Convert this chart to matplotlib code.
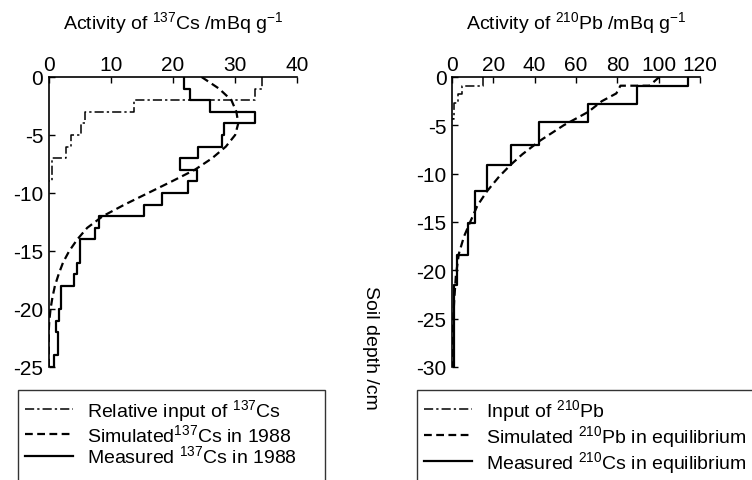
import numpy as np
import matplotlib
matplotlib.use("Agg")
import matplotlib.pyplot as plt
from matplotlib.lines import Line2D

# ---- 137Cs profile (depth in cm, activity in mBq/g) ----
cs_layer_bounds = [0, 1, 2, 3, 4, 5, 6, 7, 8, 9, 10, 11, 12, 13, 14, 15, 16, 17,
                   18, 19, 20, 21, 22, 23, 24, 25]
cs_measured = [21.7, 22.8, 26.0, 33.2, 28.2, 27.9, 24.0, 21.1, 23.9, 22.4, 18.2,
               15.3, 8.1, 7.5, 5.0, 5.0, 4.6, 4.0, 2.0, 2.0, 1.7, 1.1, 1.5, 1.5, 0.8]

cs_input_bounds = [0, 1, 2, 3, 4, 5, 6, 7, 9]
cs_input = [34.3, 33.2, 13.8, 5.9, 5.2, 3.6, 2.8, 0.5]

cs_sim_depth = [0, 1, 2, 3, 4, 5, 6, 7, 8, 9, 10, 11, 12, 13, 14, 15, 16, 17, 18,
                19, 20, 21, 22, 25]
cs_sim = [24.6, 27.4, 29.4, 30.2, 30.5, 30.0, 28.5, 26.3, 23.5, 19.8, 16.0, 12.2,
          8.7, 6.2, 4.6, 3.3, 2.3, 1.6, 1.0, 0.6, 0.3, 0.1, 0.0, 0.0]

# ---- 210Pb profile ----
pb_layer_bounds = [0, 0.9, 2.8, 4.7, 7.0, 9.1, 11.8, 15.1, 18.4, 21.5, 30]
pb_measured = [114.0, 89.5, 65.8, 42.3, 28.5, 16.9, 11.1, 7.6, 2.4, 0.8]

pb_input_bounds = [0, 0.9, 1.8, 2.7, 4.3]
pb_input = [14.9, 4.8, 2.8, 1.0]

pb_sim_depth = [0, 0.9, 0.9, 1.7, 2.5, 3.6, 5.0, 6.6, 8.0, 9.1, 10.3, 11.8, 13.3,
                15.0, 16.5, 18.3, 20.5, 23.0, 25.0, 30.0]
pb_sim = [100.3, 95.5, 81.5, 79.5, 72.5, 66.0, 54.0, 42.5, 34.0, 28.3, 22.8, 17.0,
          12.3, 8.8, 5.8, 3.3, 1.9, 1.1, 0.6, 0.2]

FONT = "Liberation Sans"
plt.rcParams["font.family"] = [FONT, "DejaVu Sans"]
plt.rcParams["mathtext.fontset"] = "custom"
plt.rcParams["mathtext.rm"] = FONT
plt.rcParams["mathtext.it"] = FONT
plt.rcParams["mathtext.default"] = "regular"
plt.rcParams["axes.unicode_minus"] = False


def step_profile(bounds, values):
    xs, ys = [], []
    for top, bottom, v in zip(bounds[:-1], bounds[1:], values):
        xs += [v, v]
        ys += [-top, -bottom]
    xs.append(0)
    ys.append(-bounds[-1])
    return xs, ys


def style_axes(ax, xmax, xstep, ymin, title):
    ax.set_xlim(0, xmax)
    ax.set_ylim(ymin, 0)
    ax.set_xticks(np.arange(0, xmax + 1, xstep))
    ax.set_yticks(np.arange(ymin, 1, 5))
    ax.xaxis.tick_top()
    ax.spines["bottom"].set_visible(False)
    ax.spines["right"].set_visible(False)
    for s in ("top", "left"):
        ax.spines[s].set_linewidth(1.2)
    ax.tick_params(direction="in", length=4, width=1, labelsize=15, pad=2.5)
    ax.tick_params(axis="y", pad=4)
    ax.set_title(title, fontsize=14, y=1 + 49 / 290, pad=0)


fig = plt.figure(figsize=(7.52, 4.81), dpi=100)
ax1 = fig.add_axes([48.7 / 752, 1 - 368 / 481, 248.6 / 752, 290 / 481])
ax2 = fig.add_axes([452 / 752, 1 - 368 / 481, 248 / 752, 290 / 481])

dashdot = (0, (6, 2, 1.5, 2))
dashed = (0, (3.5, 2))

x, y = step_profile(cs_input_bounds, cs_input)
h1, = ax1.plot(x, y, color="black", lw=1.1, linestyle=dashdot)
h2, = ax1.plot(cs_sim, -np.array(cs_sim_depth), color="black", lw=1.6, linestyle=dashed)
x, y = step_profile(cs_layer_bounds, cs_measured)
h3, = ax1.plot(x, y, color="black", lw=1.6)
style_axes(ax1, 40, 10, -25, r"Activity of $^{137}$Cs /mBq g$^{-1}$")

x, y = step_profile(pb_input_bounds, pb_input)
g1, = ax2.plot(x, y, color="black", lw=1.1, linestyle=dashdot)
g2, = ax2.plot(pb_sim, -np.array(pb_sim_depth), color="black", lw=1.6, linestyle=dashed)
x, y = step_profile(pb_layer_bounds, pb_measured)
g3, = ax2.plot(x, y, color="black", lw=1.6)
style_axes(ax2, 120, 20, -30, r"Activity of $^{210}$Pb /mBq g$^{-1}$")

fig.text(370 / 752, 1 - 348 / 481, "Soil depth /cm", rotation=270,
         ha="center", va="center", fontsize=14)

blank = Line2D([], [], color="none")
leg_kw = dict(loc="upper left", mode="expand", frameon=True, fancybox=False,
              edgecolor="black", handlelength=2.5, handletextpad=0.7,
              labelspacing=0.0, borderpad=0.35, borderaxespad=0,
              prop={"size": 14})

leg1 = fig.legend([h1, h2, h3, blank],
                  [r"Relative input of $^{137}$Cs", r"Simulated$^{137}$Cs in 1988",
                   r"Measured $^{137}$Cs in 1988", " "],
                  bbox_to_anchor=(18 / 752, 0, 307 / 752, 1 - 391 / 481), **leg_kw)
leg2 = fig.legend([g1, g2, g3, blank],
                  [r"Input of $^{210}$Pb", r"Simulated $^{210}$Pb in equilibrium",
                   r"Measured $^{210}$Cs in equilibrium", " "],
                  bbox_to_anchor=(417 / 752, 0, 400 / 752, 1 - 391 / 481), **leg_kw)
for leg in (leg1, leg2):
    leg.get_frame().set_linewidth(1.0)

fig.savefig("out.png", dpi=100)
